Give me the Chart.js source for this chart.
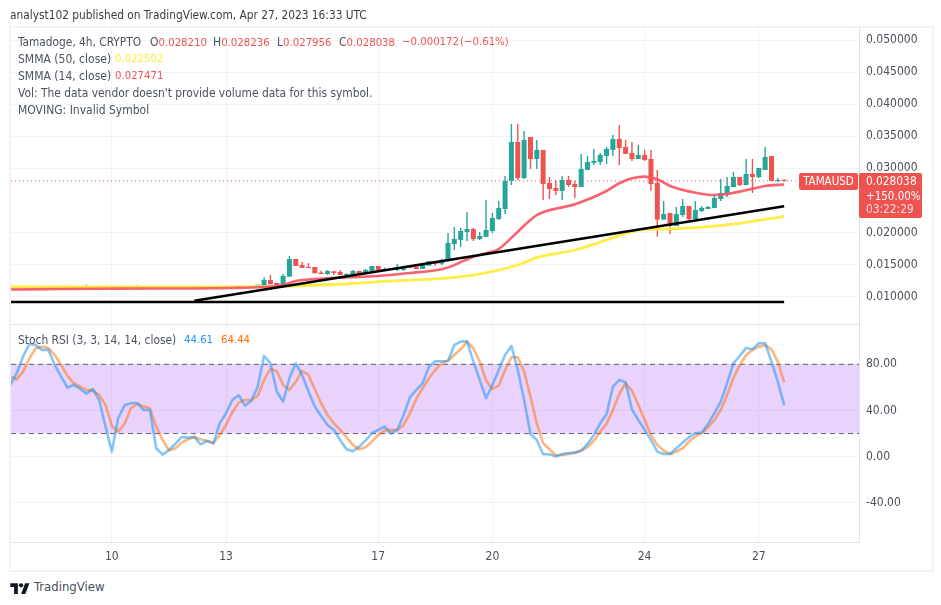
<!DOCTYPE html>
<html><head><meta charset="utf-8">
<style>
html,body{margin:0;padding:0;background:#fff;width:941px;height:605px;overflow:hidden;font-family:"DejaVu Sans Condensed","DejaVu Sans",sans-serif;}
canvas{position:absolute;left:0;}
.t{position:absolute;white-space:nowrap;font-size:12px;line-height:16px;color:#4c525e;}
.n{font-size:11.3px;}
#frame{position:absolute;left:9px;top:26px;width:921px;height:542px;border:2px solid #f0f3fa;}
.box{position:absolute;background:#ef5350;border-radius:2px;}
</style></head><body>
<div id="frame"></div>
<canvas id="priceCanvas" width="941" height="325" style="top:0"></canvas>
<canvas id="stochCanvas" width="941" height="245" style="top:325px"></canvas>
<div class="t" style="left:10px;top:7px;color:#3c3c3c;font-size:11.8px">analyst102 published on TradingView.com, Apr 27, 2023 16:33 UTC</div>
<div class="t" style="left:18px;top:34px;font-size:11.8px">Tamadoge, 4h, CRYPTO</div>
<div class="t" style="left:150px;top:34px">O<span class="n" style="color:#ef5350">0.028210</span></div>
<div class="t" style="left:213px;top:34px">H<span class="n" style="color:#ef5350">0.028236</span></div>
<div class="t" style="left:277px;top:34px">L<span class="n" style="color:#ef5350">0.027956</span></div>
<div class="t" style="left:339px;top:34px">C<span class="n" style="color:#ef5350">0.028038</span></div>
<div class="t n" style="left:402px;top:34px;color:#ef5350">−0.000172</div>
<div class="t n" style="left:460px;top:34px;color:#ef5350">(−0.61%)</div>
<div class="t" style="left:18px;top:51px">SMMA (50, close)</div>
<div class="t n" style="left:115px;top:51px;color:#ffeb3b">0.022502</div>
<div class="t" style="left:18px;top:68px">SMMA (14, close)</div>
<div class="t n" style="left:115px;top:68px;color:#f7525f">0.027471</div>
<div class="t" style="left:18px;top:85px;font-size:11.9px">Vol: The data vendor doesn't provide volume data for this symbol.</div>
<div class="t" style="left:18px;top:102px">MOVING: Invalid Symbol</div>
<div class="t" style="left:18px;top:332px;font-size:11.9px">Stoch RSI (3, 3, 14, 14, close)</div>
<div class="t n" style="left:184px;top:332px;color:#2196f3">44.61</div>
<div class="t n" style="left:221px;top:332px;color:#ff6d00">64.44</div>
<div class="box" style="left:799px;top:173px;width:59px;height:17px"></div>
<div class="t" style="left:799px;top:173px;width:59px;height:17px;line-height:17px;text-align:center;color:#fff;font-size:11.5px">TAMAUSD</div>
<div class="box" style="left:859px;top:173px;width:63px;height:45px"></div>
<div class="t" style="left:866px;top:173px;color:#fff;font-size:11.8px">0.028038</div>
<div class="t" style="left:866px;top:188px;color:#fff;font-size:11.5px">+150.00%</div>
<div class="t" style="left:866px;top:201px;color:#fbdcdb;font-size:11.8px">03:22:29</div>
<svg style="position:absolute;left:10px;top:581px" width="20" height="14" viewBox="0 0 36 26"><path fill="#131722" d="M14 24H7V11H0V4h14v20zM28 24h-8l7.5-20h8L28 24z"/><circle fill="#131722" cx="20" cy="8" r="4"/></svg>
<div class="t" style="left:34px;top:579px;font-size:13px;color:#4a4f5c">TradingView</div>
<script src="https://cdn.jsdelivr.net/npm/chart.js@4/dist/chart.umd.min.js"></script>
<script>
const firstIndex = -16;
const dayTickIndex = [0, 18, 42, 60, 84, 102];
const dayTickLabels = ['10', '13', '17', '20', '24', '27'];
const priceTicks = [0.01, 0.015, 0.02, 0.03, 0.035, 0.04, 0.045, 0.05];
const stochTicks = [80, 40, 0, -40];
const opens = [
.01130,.01134,.01136,.01134,.01132,.01135,.01136,.01134,.01136,.01138,.01137,.01136,
.01135,.01140,.01139,.01141,.01140,.01138,.01139,.01141,.01140,
.01143,.01142,.01140,.01141,.01143,.01144,.01142,.01141,.01143,.01144,.01145,.01143,.01142,.01144,.01146,.01145,.01144,.01146,
.01169,.01169,.01257,.01211,.01179,.01309,.01585,.01491,.01455,.01460,.01372,.01351,.01393,.01382,.01330,.01335,.01398,
.01367,.01398,.01476,.01414,.01440,.01414,.01414,.01460,.01466,.01429,.01481,.01549,.01512,.01554,.01819,.01881,.02006,.02053,.01897,.01928,.02022,.02209,.02365,
.02802,.03410,.02849,.03488,.03145,.03286,.02771,.02693,.02646,.02817,.02755,.02708,.02974,.03083,.03098,.03192,.03286,.03457,.03332,.03239,.03145,
.03208,.03145,.02771,.02199,.02303,.02100,.02272,.02412,.02209,.02334,.02365,.02381,.02521,.02599,.02708,.02864,.02739,.02911,.02864,.02973,.03192,.02802,.028210];
const highs = [
.01137,.01139,.01139,.01137,.01138,.01139,.01139,.01139,.01141,.01141,.01140,.01139,
.01187,.01143,.01144,.01144,.01143,.01142,.01144,.01144,.01172,
.01146,.01145,.01144,.01146,.01147,.01147,.01145,.01146,.01147,.01148,.01148,.01146,.01147,.01149,.01149,.01148,.01149,.01153,
.01184,.01299,.01335,.01211,.01351,.01632,.01585,.01538,.01523,.01460,.01403,.01413,.01393,.01413,.01362,.01413,.01403,
.01429,.01476,.01476,.01450,.01445,.01507,.01476,.01481,.01481,.01502,.01554,.01554,.01585,.01991,.02084,.02069,.02318,.02069,.02006,.02505,.02303,.02490,.02880,
.03691,.03691,.03582,.03488,.03442,.03286,.02864,.02817,.02880,.02880,.02802,.03223,.03192,.03301,.03239,.03332,.03519,.03676,.03442,.03410,.03364,
.03286,.03286,.02974,.02490,.02303,.02396,.02521,.02412,.02490,.02412,.02412,.02568,.02833,.02864,.02942,.02864,.03145,.03145,.03005,.03332,.03192,.02849,.028236];
const lows = [
.01127,.01131,.01131,.01129,.01129,.01132,.01131,.01131,.01133,.01134,.01133,.01132,
.01132,.01136,.01136,.01137,.01135,.01135,.01136,.01137,.01137,
.01139,.01137,.01137,.01138,.01140,.01139,.01138,.01138,.01140,.01141,.01140,.01139,.01139,.01141,.01142,.01141,.01141,.01143,
.01169,.01169,.01190,.01179,.01179,.01309,.01476,.01445,.01445,.01362,.01351,.01335,.01335,.01335,.01320,.01320,.01335,
.01346,.01398,.01414,.01398,.01408,.01398,.01398,.01440,.01429,.01429,.01481,.01481,.01491,.01544,.01725,.01772,.01866,.01866,.01881,.01928,.01991,.02193,.02287,
.02739,.02817,.02833,.02989,.02989,.02505,.02521,.02584,.02505,.02708,.02537,.02708,.02974,.03052,.03052,.03067,.03192,.03052,.03223,.03114,.03145,
.03114,.02651,.01933,.02199,.01975,.02100,.02240,.02194,.02209,.02318,.02365,.02381,.02490,.02552,.02708,.02724,.02739,.02615,.02849,.02973,.02802,.02786,.027956];
const closes = [
.01134,.01136,.01134,.01132,.01135,.01136,.01134,.01136,.01138,.01137,.01136,.01135,
.01140,.01139,.01141,.01140,.01138,.01139,.01141,.01140,.01143,
.01142,.01140,.01141,.01143,.01144,.01142,.01141,.01143,.01144,.01145,.01143,.01142,.01144,.01146,.01145,.01144,.01146,.01150,
.01184,.01257,.01190,.01179,.01320,.01585,.01476,.01445,.01445,.01362,.01351,.01398,.01367,.01335,.01351,.01398,.01351,
.01414,.01476,.01414,.01429,.01414,.01460,.01460,.01450,.01429,.01491,.01554,.01507,.01569,.01835,.01897,.02022,.02053,.01897,.01944,.02037,.02225,.02381,.02802,
.03410,.02849,.03442,.03145,.03286,.02755,.02677,.02646,.02817,.02739,.02708,.02989,.03098,.03114,.03208,.03301,.03457,.03317,.03223,.03145,.03208,
.03130,.02755,.02199,.02287,.02100,.02287,.02412,.02209,.02349,.02381,.02396,.02537,.02615,.02724,.02864,.02739,.02911,.02864,.03005,.03176,.02802,.02818,.028038];
const smma14Index = [-16,-8,1,19,24,27,29,34,42,47,52,54,57,59,61,64,67,73,78,80,82,84,86,88,92,95,97,100,103,106];
const smma14Values = [.01109,.01117,.01122,.01133,.01148,.01179,.01242,.01284,.01320,.01367,.01424,.01491,.01621,.01674,.01741,.02011,.02271,.02438,.02646,.02766,.02844,.02869,.02828,.02724,.02619,.02583,.02599,.02657,.02724,.027471];
const smma50Index = [-16,19,37,42,52,57,64,67,73,78,82,84,88,94,99,106];
const smma50Values = [.01148,.01150,.01195,.01231,.01284,.01335,.01491,.01605,.01725,.01881,.02011,.02048,.02053,.02089,.02142,.022502];
const trendIndex = [13, 106];
const trendValues = [.00934, .02407];
const supportIndex = [-16, 106];
const supportValues = [.00914, .00914];
const stochK = [
62.1,72.2,86.7,97.6,96.8,92.4,92.4,79.4,69.3,59.8,62.1,58.7,54.6,58.7,49.1,26.1,
4.4,33.3,44.5,46.3,46.5,40.5,40.5,7.3,1.8,5.8,11.0,17.1,16.5,17.1,10.7,13.6,11.6,28.9,37.6,49.1,53.2,44.2,48.6,60.7,87.2,80.9,56.4,47.7,67.9,80.9,70.8,56.4,43.4,
35.3,27.5,23.2,14.5,6.4,4.7,8.7,13.9,20.3,23.2,26.1,20.3,23.2,36.1,51.4,57.8,63.6,78.0,82.6,82.6,82.9,96.8,99.6,99.9,82.3,66.5,50.6,62.1,75.1,88.1,95.9,75.1,49.1,19.7,14.5,2.1,2.1,0.1,2.4,3.2,3.5,5.3,11.0,18.8,28.9,36.7,60.7,66.5,64.4,41.1,
31.8,23.2,14.5,4.4,2.4,2.4,7.3,12.2,16.8,20.3,20.9,28.4,37.6,47.7,63.6,80.9,87.2,94.2,93.0,98.2,98.2,82.3,65.0,44.61];
const stochD = [
69.3,67.0,73.7,85.2,93.9,95.3,93.9,88.1,79.4,69.9,63.6,60.7,57.8,57.2,53.5,44.8,
26.6,21.7,28.4,41.9,45.4,43.4,41.9,26.1,14.5,5.3,7.0,12.2,15.1,17.1,15.1,13.9,11.6,18.8,27.5,38.5,46.8,49.1,49.1,52.6,66.5,76.0,74.2,62.1,57.8,65.0,74.2,70.8,58.4,
46.3,36.1,28.9,23.2,16.8,10.2,6.4,8.2,13.1,18.8,22.6,23.2,23.2,27.5,37.6,50.0,59.2,67.9,75.1,80.9,83.2,88.1,93.0,99.6,93.9,82.3,65.9,58.7,61.5,75.1,86.1,86.1,73.7,52.0,28.9,11.6,6.4,1.2,1.5,2.4,3.5,5.3,8.2,13.9,21.7,28.4,40.5,54.3,63.6,57.2,
44.8,31.8,18.8,10.2,5.3,2.4,4.4,7.3,13.1,17.4,20.3,25.5,31.8,40.5,53.5,67.9,79.4,88.1,92.4,95.3,96.8,93.0,82.3,64.44];

const XMIN = -15.9, XMAX = 117.8;
const GREEN = '#26a69a', RED = '#ef5350', GRID = '#f0f3fa', AXIS = '#e0e3eb', TICK = '#4a4f5c';
const pts = (xs, ys) => xs.map((x, i) => ({x, y: ys[i]}));
const upDown = opens.map((o, i) => closes[i] >= o ? GREEN : RED);
const wickData = highs.map((h, i) => ({x: firstIndex + i, y: [lows[i], h]}));
const bodyData = opens.map((o, i) => ({x: firstIndex + i, y: [o, closes[i]]}));
const lineSet = (data, color, width, order, extra) => Object.assign({type: 'line', data, borderColor: color, borderWidth: width, pointRadius: 0, fill: false, order, tension: 0, borderCapStyle: 'butt', borderJoinStyle: 'round'}, extra || {});
const font = {family: '"DejaVu Sans Condensed", "DejaVu Sans", sans-serif', size: 12};
const xScale = (showLabels, height) => ({
  type: 'linear', min: XMIN, max: XMAX, offset: false,
  afterBuildTicks: s => { s.ticks = dayTickIndex.map(v => ({value: v})); },
  afterFit: s => { s.height = height; s.paddingLeft = 0; s.paddingRight = 0; },
  grid: {color: GRID, drawTicks: false, offset: false},
  border: {display: true, color: AXIS},
  ticks: {display: showLabels, autoSkip: false, maxRotation: 0, padding: 8, color: TICK, font,
    callback: v => dayTickLabels[dayTickIndex.indexOf(v)]}
});
const yScale = (min, max, ticks, fmt) => ({
  type: 'linear', position: 'right', min, max,
  afterBuildTicks: s => { s.ticks = ticks.map(v => ({value: v})); },
  afterFit: s => { s.width = 72; s.paddingTop = 0; s.paddingBottom = 0; },
  grid: {color: GRID, drawTicks: false},
  border: {display: true, color: AXIS},
  ticks: {autoSkip: false, padding: 7, color: TICK, font, callback: fmt}
});
const base = {responsive: false, animation: false, devicePixelRatio: 1, events: [],
  plugins: {legend: {display: false}, tooltip: {enabled: false}}};

new Chart(document.getElementById('priceCanvas'), {
  type: 'bar',
  data: {datasets: [
    {type: 'bar', data: wickData, backgroundColor: upDown, barThickness: 1.4, grouped: false, borderWidth: 0, inflateAmount: 0, order: 9},
    {type: 'bar', data: bodyData, backgroundColor: upDown, barThickness: 5, grouped: false, borderWidth: 0, inflateAmount: 0, minBarLength: 1, order: 8},
    lineSet(pts([XMIN, XMAX], [closes[closes.length - 1], closes[closes.length - 1]]), '#f7525f', 1, 7, {borderDash: [1, 3]}),
    lineSet(pts(smma50Index, smma50Values), 'rgba(255,235,59,0.95)', 2.8, 6, {cubicInterpolationMode: 'monotone'}),
    lineSet(pts(smma14Index, smma14Values), 'rgba(247,82,95,0.9)', 2.6, 5, {cubicInterpolationMode: 'monotone'}),
    lineSet(pts(supportIndex, supportValues), '#000', 2.5, 4),
    lineSet(pts(trendIndex, trendValues), '#000', 2.5, 3)
  ]},
  options: Object.assign({}, base, {
    layout: {padding: {left: 11, right: 10, top: 28, bottom: 0}},
    scales: {x: xScale(false, 1), y: yScale(0.00571, 0.05188, priceTicks, v => v.toFixed(6))}
  })
});

new Chart(document.getElementById('stochCanvas'), {
  type: 'line',
  data: {datasets: [
    lineSet(pts([XMIN, XMAX], [80, 80]), '#5d606b', 1, 6, {borderDash: [5, 4], fill: '+1', backgroundColor: 'rgba(147,30,240,0.2)'}),
    lineSet(pts([XMIN, XMAX], [20, 20]), '#5d606b', 1, 5, {borderDash: [5, 4]}),
    lineSet(stochD.map((y, i) => ({x: firstIndex + i, y})), 'rgba(255,109,0,0.5)', 2.6, 4),
    lineSet(stochK.map((y, i) => ({x: firstIndex + i, y})), 'rgba(33,150,243,0.55)', 2.6, 3)
  ]},
  options: Object.assign({}, base, {
    layout: {padding: {left: 11, right: 10, top: 0, bottom: 0}},
    scales: {x: xScale(true, 28), y: yScale(-73.85, 114.03, stochTicks, v => v.toFixed(2))}
  })
});
</script>
</body></html>
